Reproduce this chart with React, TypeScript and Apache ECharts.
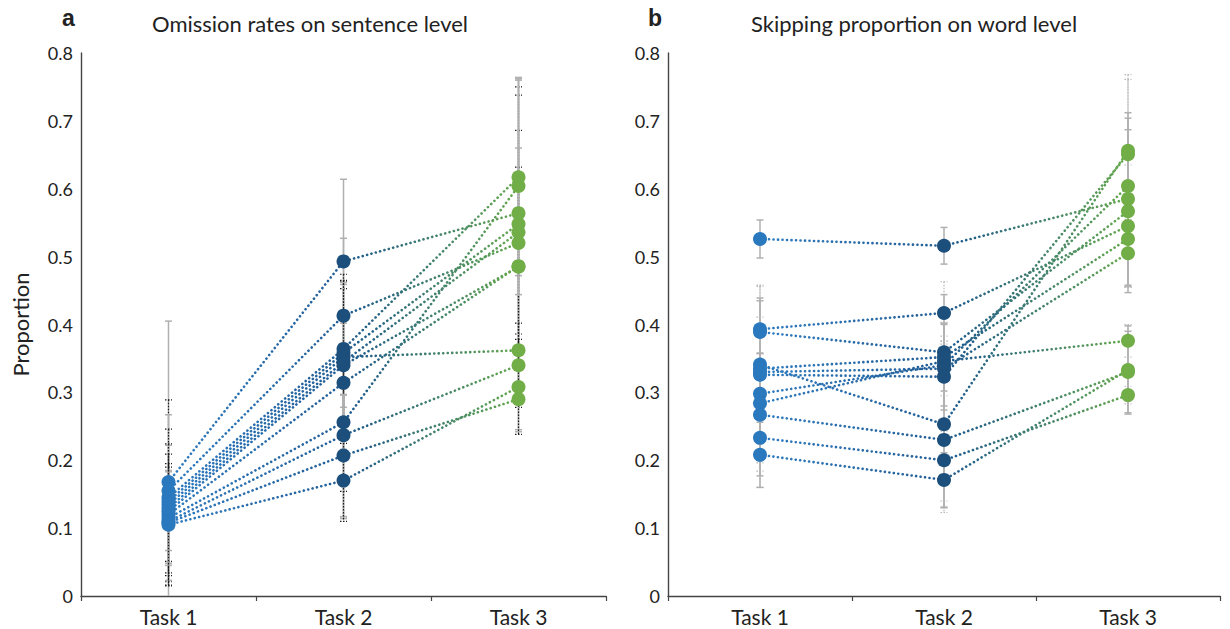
import React, { useEffect, useRef } from "react";
import * as echarts from "echarts";

const categories = ["Task 1", "Task 2", "Task 3"];
const yTicks = [0, 0.1, 0.2, 0.3, 0.4, 0.5, 0.6, 0.7, 0.8];

// Panel a: omission rates on sentence level (one entry per participant)
const omissionTask1 = [0.168, 0.155, 0.145, 0.14, 0.135, 0.13, 0.125, 0.12, 0.115, 0.11, 0.108, 0.105];
const omissionTask2 = [0.493, 0.413, 0.364, 0.358, 0.352, 0.345, 0.34, 0.314, 0.256, 0.237, 0.207, 0.17];
const omissionTask3 = [0.564, 0.52, 0.617, 0.548, 0.362, 0.536, 0.485, 0.486, 0.604, 0.34, 0.29, 0.308];
const omissionErr1 = [0.237, 0.134, 0.122, 0.106, 0.087, 0.079, 0.058, 0.104, 0.07, 0.08, 0.06, 0.09];
const omissionErr2 = [0.034, 0.05, 0.25, 0.095, 0.11, 0.12, 0.062, 0.16, 0.04, 0.12, 0.09, 0.06];
const omissionErr3 = [0.196, 0.23, 0.145, 0.19, 0.12, 0.15, 0.175, 0.146, 0.16, 0.062, 0.045, 0.07];

// Panel b: skipping proportion on word level
const skipTask1 = [0.526, 0.393, 0.389, 0.341, 0.335, 0.326, 0.298, 0.284, 0.267, 0.233, 0.208, 0.33];
const skipTask2 = [0.516, 0.417, 0.359, 0.253, 0.352, 0.323, 0.34, 0.346, 0.23, 0.2, 0.171, 0.335];
const skipTask3 = [0.585, 0.545, 0.567, 0.656, 0.526, 0.651, 0.604, 0.376, 0.33, 0.296, 0.333, 0.505];
const skipErr1 = [0.028, 0.065, 0.05, 0.07, 0.1, 0.13, 0.06, 0.1, 0.09, 0.073, 0.048, 0.07];
const skipErr2 = [0.027, 0.046, 0.085, 0.13, 0.05, 0.08, 0.06, 0.03, 0.1, 0.06, 0.04, 0.04];
const skipErr3 = [0.127, 0.09, 0.12, 0.112, 0.07, 0.11, 0.1, 0.024, 0.06, 0.013, 0.065, 0.05];

const FONT = "Lato, 'Open Sans', sans-serif";

function buildPanel(
  idx: number,
  t1: number[],
  t2: number[],
  t3: number[],
  e1: number[],
  e2: number[],
  e3: number[],
  darkBars: boolean
) {
  const series: any[] = [];
  const errData: any[] = [];
  [t1, t2, t3].forEach((vals, task) => {
    const errs = [e1, e2, e3][task];
    vals.forEach((v, i) => errData.push([task, v, errs[i], i % 2]));
  });
  series.push({
    type: "custom",
    xAxisIndex: idx,
    yAxisIndex: idx,
    z: 1,
    silent: true,
    encode: { x: 0, y: 1 },
    data: errData,
    renderItem: (params: any, api: any) => {
      const x = api.value(0);
      const v = api.value(1);
      const e = api.value(2);
      const kind = api.value(3);
      const hi = v + e;
      const lo = Math.max(0, v - e);
      const top = api.coord([x, hi]);
      const bot = api.coord([x, lo]);
      const stroke = kind === 1 ? (darkBars ? "#1a1a1a" : "#b5b5b5") : "#b0b0b0";
      const style: any = {
        stroke,
        lineWidth: kind === 1 ? 1.2 : 1.5,
        lineDash: kind === 1 ? [1.5, 1.5] : null,
      };
      const children: any[] = [
        { type: "line", shape: { x1: top[0], y1: top[1], x2: bot[0], y2: bot[1] }, style },
        { type: "line", shape: { x1: top[0] - 3.5, y1: top[1], x2: top[0] + 3.5, y2: top[1] }, style },
      ];
      if (v - e > 0) {
        children.push({
          type: "line",
          shape: { x1: bot[0] - 3.5, y1: bot[1], x2: bot[0] + 3.5, y2: bot[1] },
          style,
        });
      }
      return { type: "group", children };
    },
  });

  t1.forEach((_, i) => {
    series.push({
      type: "line",
      xAxisIndex: idx,
      yAxisIndex: idx,
      z: 2,
      silent: true,
      symbol: "none",
      data: [t1[i], t2[i], t3[i]],
      lineStyle: {
        width: 2.6,
        type: [0.1, 4.4],
        cap: "round",
        color: new echarts.graphic.LinearGradient(0, 0, 1, 0, [
          { offset: 0, color: "#2e7bc0" },
          { offset: 0.48, color: "#235f98" },
          { offset: 0.55, color: "#215e8a" },
          { offset: 1, color: "#66a94c" },
        ]),
      },
    });
  });

  const dotColors = ["#2a78bd", "#1d4f7c", "#71ae48"];
  [t1, t2, t3].forEach((vals, task) => {
    series.push({
      type: "scatter",
      xAxisIndex: idx,
      yAxisIndex: idx,
      z: 3,
      symbolSize: 14,
      itemStyle: { color: dotColors[task], opacity: 1 },
      data: vals.map((v) => [task, v]),
    });
  });
  return series;
}

export default function App() {
  const ref = useRef<HTMLDivElement>(null);
  useEffect(() => {
    if (!ref.current) return;
    const chart = echarts.init(ref.current, undefined, { renderer: "svg" });
    const xAxisBase = (i: number) => ({
      type: "category",
      gridIndex: i,
      data: categories,
      boundaryGap: true,
      axisLine: { lineStyle: { color: "#444", width: 1.4 } },
      axisTick: { show: true, length: 5, lineStyle: { color: "#444", width: 1.2 } },
      axisLabel: { fontSize: 21, color: "#222", margin: 10, fontFamily: FONT },
      splitLine: { show: false },
    });
    const yAxisBase = (i: number) => ({
      type: "value",
      gridIndex: i,
      min: yTicks[0],
      max: yTicks[yTicks.length - 1],
      interval: 0.1,
      axisLine: { show: true, lineStyle: { color: "#444", width: 1.4 } },
      axisTick: { show: false },
      splitLine: { show: false },
      axisLabel: {
        fontSize: 18,
        color: "#222",
        margin: 8,
        fontFamily: FONT,
        formatter: (v: number) => String(Math.round(v * 10) / 10),
      },
    });
    const titleFont = { fontSize: 22, fontWeight: "normal", color: "#222", fontFamily: FONT };
    const letterFont = { fontSize: 23, fontWeight: "bold", color: "#222", fontFamily: "Arial, 'Liberation Sans', sans-serif" };
    const option: any = {
      animation: false,
      backgroundColor: "#fff",
      title: [
        { text: "a", left: 62, top: 6, padding: 0, textStyle: letterFont },
        { text: "Omission rates on sentence level", left: 152, top: 12, padding: 0, textStyle: titleFont },
        { text: "b", left: 648, top: 6, padding: 0, textStyle: letterFont },
        { text: "Skipping proportion on word level", left: 751, top: 12, padding: 0, textStyle: titleFont },
      ],
      grid: [
        { left: 81, top: 53, width: 525, height: 543 },
        { left: 668, top: 53, width: 552, height: 543 },
      ],
      xAxis: [xAxisBase(0), xAxisBase(1)],
      yAxis: [
        {
          ...yAxisBase(0),
          name: "Proportion",
          nameLocation: "middle",
          nameGap: 50,
          nameTextStyle: { fontSize: 22, color: "#222", fontFamily: FONT },
        },
        yAxisBase(1),
      ],
      series: [
        ...buildPanel(0, omissionTask1, omissionTask2, omissionTask3, omissionErr1, omissionErr2, omissionErr3, true),
        ...buildPanel(1, skipTask1, skipTask2, skipTask3, skipErr1, skipErr2, skipErr3, false),
      ],
    };
    chart.setOption(option);
    return () => chart.dispose();
  }, []);
  return (
    <div
      ref={ref}
      style={{ position: "fixed", left: 0, top: 0, width: 1230, height: 629, background: "#fff" }}
    />
  );
}
